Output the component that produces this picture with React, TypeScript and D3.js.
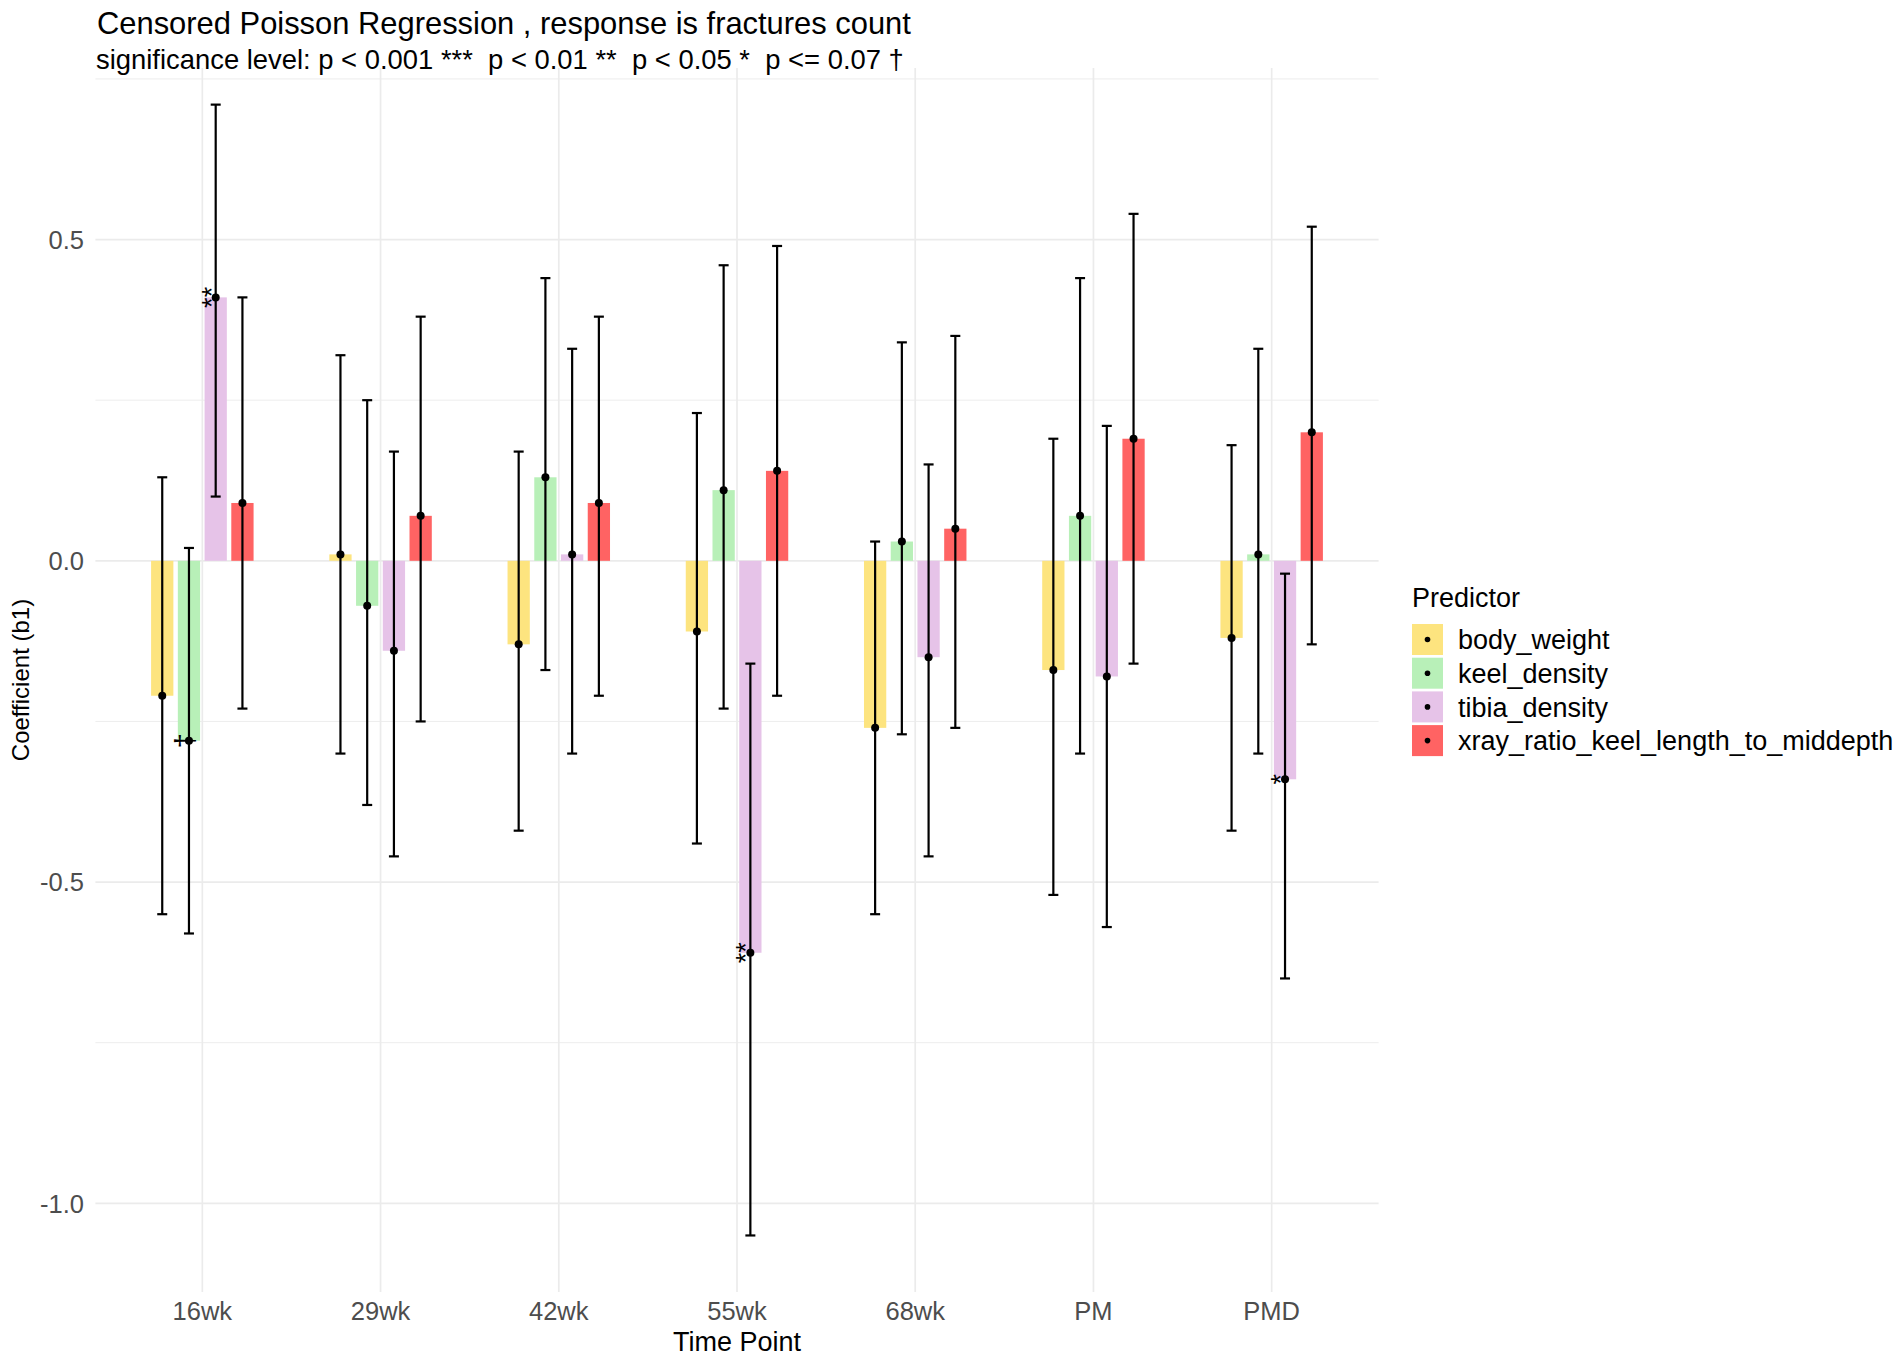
import React from "react";
import * as d3 from "d3";

const categories = ["16wk", "29wk", "42wk", "55wk", "68wk", "PM", "PMD"];
const predictors = ["body_weight", "keel_density", "tibia_density", "xray_ratio_keel_length_to_middepth"];
const predictorColors = ["#FDE47F", "#B8F0B8", "#E6C3E8", "#FF6363"];

const bodyWeightEst = [-0.21, 0.01, -0.13, -0.11, -0.26, -0.17, -0.12];
const bodyWeightLo = [-0.55, -0.30, -0.42, -0.44, -0.55, -0.52, -0.42];
const bodyWeightHi = [0.13, 0.32, 0.17, 0.23, 0.03, 0.19, 0.18];

const keelEst = [-0.28, -0.07, 0.13, 0.11, 0.03, 0.07, 0.01];
const keelLo = [-0.58, -0.38, -0.17, -0.23, -0.27, -0.30, -0.30];
const keelHi = [0.02, 0.25, 0.44, 0.46, 0.34, 0.44, 0.33];

const tibiaEst = [0.41, -0.14, 0.01, -0.61, -0.15, -0.18, -0.34];
const tibiaLo = [0.10, -0.46, -0.30, -1.05, -0.46, -0.57, -0.65];
const tibiaHi = [0.71, 0.17, 0.33, -0.16, 0.15, 0.21, -0.02];

const xrayEst = [0.09, 0.07, 0.09, 0.14, 0.05, 0.19, 0.20];
const xrayLo = [-0.23, -0.25, -0.21, -0.21, -0.26, -0.16, -0.13];
const xrayHi = [0.41, 0.38, 0.38, 0.49, 0.35, 0.54, 0.52];

const bodyWeightSig = ["", "", "", "", "", "", ""];
const keelSig = ["†", "", "", "", "", "", ""];
const tibiaSig = ["**", "", "", "**", "", "", "*"];
const xraySig = ["", "", "", "", "", "", ""];

const yMajorTicks = [-1.0, -0.5, 0.0, 0.5];
const yMinorTicks = [-0.75, -0.25, 0.25, 0.75];

const titleText = "Censored Poisson Regression , response is fractures count";
const subtitleText = "significance level: p < 0.001 ***  p < 0.01 **  p < 0.05 *  p <= 0.07 †";
const xTitle = "Time Point";
const yTitle = "Coefficient (b1)";
const legendTitle = "Predictor";

const FONT = "'Liberation Sans', Arial, Helvetica, sans-serif";

export default function App() {
  const W = 1902;
  const H = 1365;
  const panel = { left: 95.4, right: 1378.6, top: 68, bottom: 1292 };

  const x = d3.scalePoint<string>().domain(categories).range([panel.left, panel.right]).padding(0.6);
  const step = x.step();
  const y = d3.scaleLinear().domain([-1.138, 0.767]).range([panel.bottom, panel.top]);

  const series = [
    { est: bodyWeightEst, lo: bodyWeightLo, hi: bodyWeightHi, sig: bodyWeightSig },
    { est: keelEst, lo: keelLo, hi: keelHi, sig: keelSig },
    { est: tibiaEst, lo: tibiaLo, hi: tibiaHi, sig: tibiaSig },
    { est: xrayEst, lo: xrayLo, hi: xrayHi, sig: xraySig },
  ];

  const dodge = 0.15 * step;
  const barW = 0.125 * step;
  const capHalf = 5;
  const y0 = y(0);

  const gridColor = "#EBEBEB";
  const fmt = (t: number) => t.toFixed(1);

  return (
    <svg
      width={W}
      height={H}
      viewBox={`0 0 ${W} ${H}`}
      style={{ position: "absolute", left: 0, top: 0, background: "#fff", fontFamily: FONT }}
    >
      <rect x={0} y={0} width={W} height={H} fill="#fff" />
      {/* grid */}
      {yMinorTicks.map((t) => (
        <line key={"mi" + t} x1={panel.left} x2={panel.right} y1={y(t)} y2={y(t)} stroke={gridColor} strokeWidth={0.9} />
      ))}
      {yMajorTicks.map((t) => (
        <line key={"ma" + t} x1={panel.left} x2={panel.right} y1={y(t)} y2={y(t)} stroke={gridColor} strokeWidth={1.7} />
      ))}
      {categories.map((c) => (
        <line key={"vx" + c} x1={x(c)} x2={x(c)} y1={panel.top} y2={panel.bottom} stroke={gridColor} strokeWidth={1.7} />
      ))}

      {/* bars */}
      {series.map((s, j) =>
        categories.map((c, i) => {
          const cx = (x(c) as number) + (j - 1.5) * dodge;
          const v = s.est[i];
          const yv = y(v);
          return (
            <rect
              key={`b${j}-${i}`}
              x={cx - barW / 2}
              width={barW}
              y={Math.min(yv, y0)}
              height={Math.max(Math.abs(yv - y0), 0.5)}
              fill={predictorColors[j]}
            />
          );
        })
      )}

      {/* error bars */}
      {series.map((s, j) =>
        categories.map((c, i) => {
          const cx = (x(c) as number) + (j - 1.5) * dodge;
          const yl = y(s.lo[i]);
          const yh = y(s.hi[i]);
          return (
            <g key={`e${j}-${i}`} stroke="#000" strokeWidth={2.2}>
              <line x1={cx} x2={cx} y1={yh} y2={yl} />
              <line x1={cx - capHalf} x2={cx + capHalf} y1={yh} y2={yh} />
              <line x1={cx - capHalf} x2={cx + capHalf} y1={yl} y2={yl} />
            </g>
          );
        })
      )}

      {/* points */}
      {series.map((s, j) =>
        categories.map((c, i) => {
          const cx = (x(c) as number) + (j - 1.5) * dodge;
          return <circle key={`p${j}-${i}`} cx={cx} cy={y(s.est[i])} r={4} fill="#000" />;
        })
      )}

      {/* significance labels */}
      {series.map((s, j) =>
        categories.map((c, i) => {
          const lab = s.sig[i];
          if (!lab) return null;
          const cx = (x(c) as number) + (j - 1.5) * dodge;
          const cy = y(s.est[i]);
          return (
            <text
              key={`s${j}-${i}`}
              transform={`translate(${cx},${cy}) rotate(-90)`}
              textAnchor="middle"
              dy={5}
              fontSize={27}
              fill="#000"
            >
              {lab}
            </text>
          );
        })
      )}

      {/* y tick labels */}
      {yMajorTicks.map((t) => (
        <text key={"yt" + t} x={84} y={y(t)} dy="0.36em" textAnchor="end" fontSize={25.5} fill="#4D4D4D">
          {fmt(t)}
        </text>
      ))}
      {/* x tick labels */}
      {categories.map((c) => (
        <text key={"xt" + c} x={x(c)} y={1320} textAnchor="middle" fontSize={25.5} fill="#4D4D4D">
          {c}
        </text>
      ))}

      {/* axis titles */}
      <text x={(panel.left + panel.right) / 2} y={1351} textAnchor="middle" fontSize={27} fill="#000">
        {xTitle}
      </text>
      <text transform={`translate(29,${(panel.top + panel.bottom) / 2}) rotate(-90)`} textAnchor="middle" fontSize={24} fill="#000">
        {yTitle}
      </text>

      {/* title & subtitle */}
      <text x={97} y={34} fontSize={30.9} fill="#000">
        {titleText}
      </text>
      <text x={96} y={69} fontSize={27.4} fill="#000" style={{ whiteSpace: "pre" }}>
        {subtitleText}
      </text>

      {/* legend */}
      <text x={1412} y={607} fontSize={27} fill="#000">
        {legendTitle}
      </text>
      {predictors.map((p, j) => {
        const top = 624 + j * 33.7;
        return (
          <g key={"lg" + p}>
            <rect x={1412} y={top} width={31} height={31} fill={predictorColors[j]} />
            <circle cx={1427.5} cy={top + 15.5} r={2.8} fill="#000" />
            <text x={1458} y={top + 15.5} dy="0.36em" fontSize={27} fill="#000">
              {p}
            </text>
          </g>
        );
      })}
    </svg>
  );
}
